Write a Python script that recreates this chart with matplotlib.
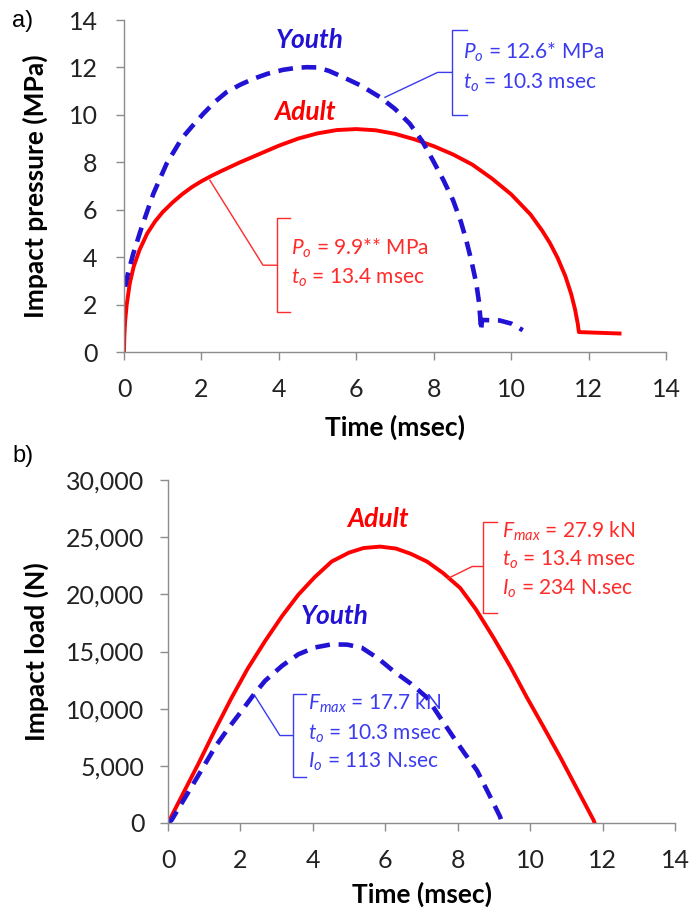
#!/usr/bin/env python
# -*- coding: utf-8 -*-

# impact_curves.py - pressure and load vs time for adult / youth impacts
import matplotlib
matplotlib.use("Agg")
import matplotlib.pyplot as plt
from matplotlib.ticker import FuncFormatter

plt.rcParams['font.family'] = ['Lato', 'DejaVu Sans']
plt.rcParams['mathtext.fontset'] = 'custom'
plt.rcParams['mathtext.rm'] = 'Lato'
plt.rcParams['mathtext.it'] = 'Lato:italic'

RED = "#ff0000"
BLUE = "#2212d4"
RED_TXT = "#ff2a2a"
BLUE_TXT = "#3b3bf0"
GRID_GREY = "#8c8c8c"

# --- a) impact pressure (MPa) ---
adult_p_t = [0, 0.01, 0.03, 0.07, 0.15, 0.25, 0.4, 0.6, 0.8, 1.0, 1.25, 1.5,
             1.75, 2.0, 2.25, 2.5, 3.0, 3.5, 4.0, 4.5, 5.0, 5.5, 6.0, 6.5,
             7.0, 7.5, 8.0, 8.5, 9.0, 9.5, 10.0, 10.5, 10.8, 11.0, 11.2,
             11.4, 11.55, 11.65, 11.72, 11.75, 12.8]
adult_p = [0, 0.7, 1.3, 2.0, 2.9, 3.6, 4.3, 5.0, 5.5, 5.9, 6.3, 6.65,
           6.95, 7.2, 7.42, 7.62, 8.0, 8.35, 8.7, 9.0, 9.22, 9.36, 9.4, 9.35,
           9.2, 8.97, 8.68, 8.33, 7.9, 7.32, 6.65, 5.8, 5.12, 4.6, 3.97,
           3.2, 2.45, 1.8, 1.2, 0.84, 0.78]

youth_p_t = [0.03, 0.1, 0.24, 0.46, 0.76, 1.1, 1.49, 1.75, 2.05, 2.35, 2.65,
             3.0, 3.34, 3.7, 4.11, 4.4, 4.71, 5.0, 5.3, 5.66, 6.1, 6.61, 7.0,
             7.38, 7.7, 7.98, 8.25, 8.5, 8.7, 8.84, 8.98, 9.1, 9.17, 9.2,
             9.22, 9.25, 9.7, 10.0, 10.3]
youth_p = [2.75, 3.3, 4.15, 5.28, 6.68, 7.94, 9.0, 9.5, 10.05, 10.55, 10.96,
           11.27, 11.52, 11.73, 11.9, 11.97, 12.01, 12.0, 11.85, 11.59, 11.25,
           10.75, 10.25, 9.63, 8.9, 8.08, 7.25, 6.4, 5.5, 4.72, 3.8, 2.89,
           2.1, 1.5, 0.9, 1.35, 1.33, 1.2, 0.92]

# --- b) impact load (N) ---
adult_f_t = [0, 0.42, 0.84, 1.3, 1.76, 2.2, 2.68, 3.15, 3.6, 4.05, 4.52, 5.0,
             5.4, 5.86, 6.3, 6.7, 7.15, 7.6, 8.07, 8.5, 8.99, 9.45, 9.91,
             10.37, 10.83, 11.3, 11.75, 11.78]
adult_f = [0, 2600, 5190, 8150, 10980, 13500, 15910, 18100, 19970, 21500,
           22870, 23650, 24050, 24175, 24000, 23550, 22870, 21850, 20550,
           18700, 16200, 13700, 10980, 8400, 5770, 2950, 260, 0]

youth_f_t = [0, 0.1, 0.65, 1.3, 1.67, 2.04, 2.36, 2.68, 3.15, 3.6, 4.05, 4.52,
             4.95, 5.35, 5.8, 6.22, 6.7, 7.15, 7.5, 7.88, 8.2, 8.53, 8.85,
             9.17, 9.22]
youth_f = [0, 260, 3160, 6640, 8300, 9830, 11200, 12435, 13750, 14757, 15350,
           15627, 15600, 15330, 14400, 13300, 12200, 10980, 9300, 7505, 6050,
           4610, 2600, 550, 0]

x_ticks = list(range(0, 15, 2))
p_ticks = list(range(0, 15, 2))
f_ticks = list(range(0, 30001, 5000))

TICK_FS = 18
LABEL_FS = 19
NOTE_FS = 15
NAME_FS = 19


def style_axes(ax, ypad):
    for side in ("top", "right"):
        ax.spines[side].set_visible(False)
    for side in ("left", "bottom"):
        ax.spines[side].set_color(GRID_GREY)
        ax.spines[side].set_linewidth(1.0)
    ax.tick_params(axis="both", direction="out", length=6, width=1.0,
                   color=GRID_GREY, labelsize=TICK_FS, labelcolor="#222222")
    ax.tick_params(axis="x", pad=13)
    ax.tick_params(axis="y", pad=ypad)


def bracket(ax, vx, hx, top, bottom, mid, notch_x, target, color):
    """ draw a square bracket with a leader line to the curve """
    ax.plot([hx, vx, vx, hx], [top, top, bottom, bottom], color=color,
            lw=1.0, solid_joinstyle="round", clip_on=False)
    ax.plot([target[0], notch_x, vx], [target[1], mid, mid], color=color,
            lw=1.0, clip_on=False)


def main():
    fig = plt.figure(figsize=(6.92, 9.11), dpi=100)
    W, H = 692.0, 911.0

    # top panel
    ax1 = fig.add_axes([124 / W, 1 - 352 / H, (666 - 124) / W, (352 - 20) / H])
    ax1.plot(adult_p_t, adult_p, color=RED, lw=2.8)
    ax1.plot(youth_p_t, youth_p, color=BLUE, lw=3.3,
             linestyle=(0, (3.2, 1.9)))
    ax1.set_xlim(0, 14)
    ax1.set_ylim(0, 14)
    ax1.set_xticks(x_ticks)
    ax1.set_yticks(p_ticks)
    style_axes(ax1, ypad=13)
    ax1.set_xlabel("Time (msec)", fontsize=LABEL_FS, fontweight="bold")
    ax1.set_ylabel("Impact pressure (MPa)", fontsize=LABEL_FS,
                   fontweight="bold")
    ax1.xaxis.set_label_coords(0.5, -0.19)
    ax1.yaxis.set_label_coords(-0.14, 0.5)

    ax1.text(4.8, 13.14, "Youth", color=BLUE, fontsize=NAME_FS,
             fontweight="bold", style="italic", ha="center", va="center")
    ax1.text(4.67, 10.1, "Adult", color=RED, fontsize=NAME_FS,
             fontweight="bold", style="italic", ha="center", va="center")

    bracket(ax1, 8.46, 8.85, 13.56, 9.98, 11.79, 8.10, (6.74, 10.74),
            BLUE_TXT)
    ax1.text(8.75, 12.63, r"$P_o$ = 12.6* MPa", color=BLUE_TXT,
             fontsize=NOTE_FS, va="center")
    ax1.text(8.75, 11.37, r"$t_o$ = 10.3 msec", color=BLUE_TXT,
             fontsize=NOTE_FS, va="center")

    bracket(ax1, 3.95, 4.28, 5.64, 1.68, 3.66, 3.59, (2.22, 7.24), RED_TXT)
    ax1.text(4.31, 4.38, r"$P_o$ = 9.9** MPa", color=RED_TXT,
             fontsize=NOTE_FS, va="center")
    ax1.text(4.31, 3.12, r"$t_o$ = 13.4 msec", color=RED_TXT,
             fontsize=NOTE_FS, va="center")

    # bottom panel
    ax2 = fig.add_axes([168 / W, 1 - 823 / H, (675 - 168) / W, (823 - 480) / H])
    ax2.plot(adult_f_t, adult_f, color=RED, lw=2.8)
    ax2.plot(youth_f_t, youth_f, color=BLUE, lw=3.3,
             linestyle=(0, (3.2, 1.9)))
    ax2.set_xlim(0, 14)
    ax2.set_ylim(0, 30000)
    ax2.set_xticks(x_ticks)
    ax2.set_yticks(f_ticks)
    ax2.yaxis.set_major_formatter(FuncFormatter(lambda v, _: f"{int(v):,}"))
    style_axes(ax2, ypad=11)
    ax2.set_xlabel("Time (msec)", fontsize=LABEL_FS, fontweight="bold")
    ax2.set_ylabel("Impact load (N)", fontsize=LABEL_FS, fontweight="bold")
    ax2.xaxis.set_label_coords(0.5, -0.17)
    ax2.yaxis.set_label_coords(-0.235, 0.5)

    ax2.text(5.8, 26610, "Adult", color=RED, fontsize=NAME_FS,
             fontweight="bold", style="italic", ha="center", va="center")
    ax2.text(4.61, 18090, "Youth", color=BLUE, fontsize=NAME_FS,
             fontweight="bold", style="italic", ha="center", va="center")

    bracket(ax2, 8.70, 9.09, 26350, 18350, 22435, 8.40, (7.73, 21390),
            RED_TXT)
    ax2.text(9.23, 25480, r"$F_{max}$ = 27.9 kN", color=RED_TXT,
             fontsize=NOTE_FS, va="center")
    ax2.text(9.23, 23045, r"$t_o$ = 13.4 msec", color=RED_TXT,
             fontsize=NOTE_FS, va="center")
    ax2.text(9.23, 20520, r"$I_o$ = 234 N.sec", color=RED_TXT,
             fontsize=NOTE_FS, va="center")

    bracket(ax2, 3.45, 3.81, 11300, 4000, 7650, 3.09, (2.38, 11220),
            BLUE_TXT)
    ax2.text(3.87, 10435, r"$F_{max}$ = 17.7 kN", color=BLUE_TXT,
             fontsize=NOTE_FS, va="center")
    ax2.text(3.87, 7826, r"$t_o$ = 10.3 msec", color=BLUE_TXT,
             fontsize=NOTE_FS, va="center")
    ax2.text(3.87, 5305, r"$I_o$ = 113 N.sec", color=BLUE_TXT,
             fontsize=NOTE_FS, va="center")

    # panel letters
    fig.text(12 / W, 1 - 21 / H, "a)", fontsize=17, family="Liberation Sans",
             va="center")
    fig.text(12 / W, 1 - 456 / H, "b)", fontsize=17, family="Liberation Sans",
             va="center")

    fig.savefig("out.png", dpi=100)


if __name__ == "__main__":
    main()
